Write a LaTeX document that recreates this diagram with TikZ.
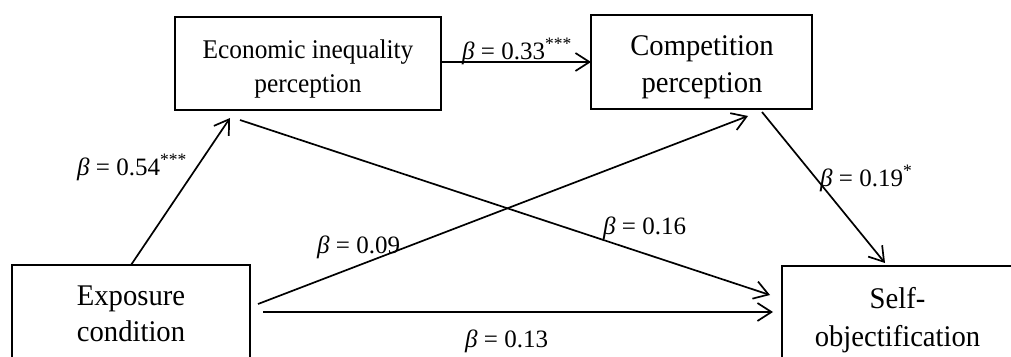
\documentclass[tikz,border=0pt]{standalone}
\usepackage{fontspec}
\setmainfont{Liberation Serif}
\newfontfamily\boxfont[FakeStretch=0.955]{Liberation Serif}
\newfontfamily\econfont[FakeStretch=0.94]{Liberation Serif}
\usetikzlibrary{arrows.meta,calc}
\tikzset{
  box/.style={draw, line width=1.7pt, rectangle, inner sep=0pt, outer sep=0pt, anchor=north west},
  bigtxt/.style={font=\boxfont\fontsize{30}{32}\selectfont, anchor=base, inner sep=0pt},
  smalltxt/.style={font=\econfont\fontsize{27}{29}\selectfont, anchor=base, inner sep=0pt},
  coef/.style={font=\fontsize{25}{27}\selectfont, anchor=base west, inner sep=0pt},
  arr/.style={line width=1.7pt, -{Straight Barb[length=14pt,width=18pt,line width=1.7pt]}}
}
\newcommand{\bt}{\textit{β}}
\begin{document}
\begin{tikzpicture}[x=1pt,y=-1pt]
\useasboundingbox (0,0) rectangle (1011,356);
% boxes
\node[box, minimum width=266pt, minimum height=93pt] (econ) at (175,17) {};
\node[box, minimum width=221pt, minimum height=94pt] (comp) at (591,15) {};
\node[box, minimum width=238pt, minimum height=120pt] (exp) at (12,265) {};
\node[box, minimum width=231pt, minimum height=120pt] (self) at (782,266) {};
% box texts
\node[smalltxt] (econa) at (308,58) {Economic inequality};
\node[smalltxt] (econb) at (308,92) {perception};
\node[bigtxt] (compa) at (702,55) {Competition};
\node[bigtxt] (compb) at (702,92) {perception};
\node[bigtxt] (expa) at (131,305) {Exposure};
\node[bigtxt] (expb) at (131,341) {condition};
\node[bigtxt] (selfa) at (897.5,308) {Self-};
\node[bigtxt] (selfb) at (897.5,346) {objectification};
% connectors
\draw[arr] (exp.north) -- ($(econ.south)+(-78,8)$);
\draw[arr] (econ.east |- comp.west) -- (comp.west);
\draw[arr] ($(econ.south)+(-68,10)$) -- ($(self.north west)+(-12,29)$);
\draw[arr] ($(exp.north east)+(8,39)$) -- ($(comp.south)+(46.5,7)$);
\draw[arr] ($(exp.north east)+(13,47)$) -- ($(self.north west)+(-9,46)$);
\draw[arr] ($(comp.south)+(60.5,3)$) -- ($(self.north)+(-12.5,-3)$);
% coefficients
\node[coef] (c1) at (77,175) {\bt{} = 0.54\textsuperscript{***}};
\node[coef] (c2) at (462,59) {\bt{} = 0.33\textsuperscript{***}};
\node[coef] (c3) at (820,186) {\bt{} = 0.19\textsuperscript{*}};
\node[coef] (c4) at (603,234) {\bt{} = 0.16};
\node[coef] (c5) at (317,253) {\bt{} = 0.09};
\node[coef] (c6) at (465,347) {\bt{} = 0.13};
\end{tikzpicture}
\end{document}
